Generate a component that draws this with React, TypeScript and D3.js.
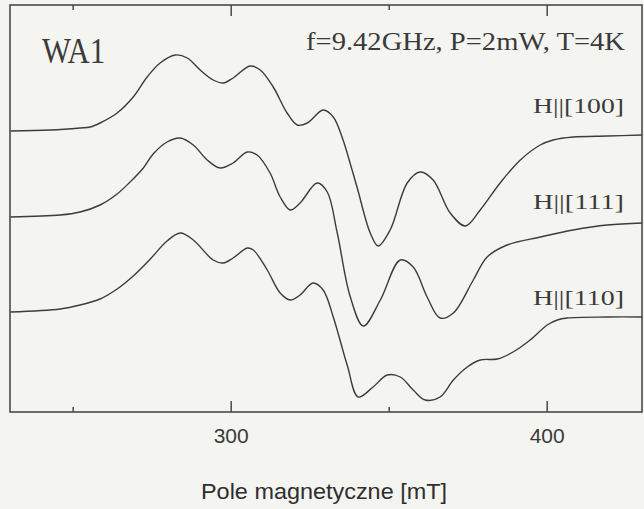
import React from "react";
import * as d3 from "d3";

// Magnetic field (mT) and EPR derivative signal (a.u.) for each orientation
const fieldH100 = [230.1, 242.7, 252.2, 255.4, 258.5, 263.9, 269.0, 273.4, 277.5, 282.3, 286.1, 290.2, 294.3, 297.5, 300.6, 306.0, 309.2, 313.3, 317.7, 320.9, 324.1, 329.1, 332.3, 335.4, 337.7, 339.9, 344.0, 346.5, 350.3, 355.7, 359.8, 363.9, 369.3, 374.1, 378.8, 385.1, 391.5, 397.8, 401.9, 408.2, 419.0, 430.1];
const signalH100 = [0, 1, 3, 4, 8, 18, 34, 54, 68, 76, 73, 61, 51, 48, 53, 65, 61, 44, 18, 6, 8, 21, 14, -9, -33, -57, -102, -115, -99, -52, -41, -49, -82, -95, -79, -52, -29, -14, -9, -6, -5, -4];

const fieldH111 = [230.1, 245.9, 252.2, 258.5, 263.9, 268.0, 272.2, 275.3, 279.7, 283.9, 288.0, 292.4, 296.5, 300.6, 305.1, 308.2, 312.3, 315.5, 318.7, 321.8, 327.2, 330.4, 333.5, 337.7, 341.8, 347.2, 353.5, 357.6, 362.0, 366.1, 370.3, 376.6, 381.0, 387.3, 397.8, 408.2, 419.0, 430.1];
const signalH111 = [0, 2, 5, 12, 23, 35, 49, 63, 75, 79, 72, 57, 49, 54, 65, 62, 44, 20, 7, 14, 34, 25, -15, -80, -109, -83, -43, -50, -80, -101, -96, -63, -40, -28, -20, -13, -8, -6];

const fieldH110 = [230.1, 245.9, 252.2, 258.5, 263.9, 269.0, 274.4, 279.7, 283.9, 288.0, 294.3, 297.5, 300.6, 305.1, 307.0, 311.4, 315.5, 318.7, 321.8, 325.9, 329.1, 332.3, 336.7, 340.2, 344.9, 349.4, 353.5, 357.6, 361.4, 366.1, 370.3, 374.7, 378.8, 384.2, 389.2, 394.6, 400.0, 403.2, 406.3, 419.0, 430.1];
const signalH110 = [0, 3, 7, 13, 23, 36, 53, 71, 79, 72, 52, 49, 54, 64, 62, 42, 19, 12, 17, 29, 22, -5, -53, -85, -75, -63, -65, -78, -88, -85, -68, -55, -48, -47, -40, -28, -13, -8, -6, -5, -5];

const seriesLabels = ["H||[100]", "H||[111]", "H||[110]"];
const seriesOffsets = [281, 195, 100];

const majorTicks = [300, 400];
const minorTicks = [250, 350];

const sampleLabel = "WA1";
const conditionsLabel = "f=9.42GHz, P=2mW, T=4K";
const xAxisTitle = "Pole magnetyczne [mT]";

export default function App() {
  const W = 644, H = 509;
  const left = 10, right = 642, top = 5, bottom = 412;
  const x = d3.scaleLinear().domain([230, 430]).range([left, right]);
  const y = d3.scaleLinear().domain([0, 407]).range([bottom, top]);

  const series = [
    { f: fieldH100, s: signalH100 },
    { f: fieldH111, s: signalH111 },
    { f: fieldH110, s: signalH110 },
  ];

  const line = d3
    .line<[number, number]>()
    .x((d) => x(d[0]))
    .y((d) => y(d[1]))
    .curve(d3.curveCatmullRom.alpha(0.5));

  const labelY = [113, 209, 305];
  const stroke = "#3c3c3c";

  return (
    <div style={{ position: "absolute", left: 0, top: 0 }}>
      <svg width={W} height={H} style={{ display: "block" }}>
        <rect x={0} y={0} width={W} height={H} fill="#f4f4f1" />
        {series.map((sr, i) => {
          const pts = sr.f.map((f, j) => [f, sr.s[j] + seriesOffsets[i]] as [number, number]);
          return (
            <path key={i} d={line(pts) || ""} fill="none" stroke={stroke} strokeWidth={1.4} strokeLinejoin="round" />
          );
        })}
        <rect x={left} y={top} width={right - left} height={bottom - top} fill="none" stroke="#4a4a4a" strokeWidth={1.6} />
        {majorTicks.map((t) => (
          <g key={"M" + t}>
            <line x1={x(t)} x2={x(t)} y1={bottom} y2={bottom - 11} stroke="#4a4a4a" strokeWidth={1.5} />
            <line x1={x(t)} x2={x(t)} y1={top} y2={top + 11} stroke="#4a4a4a" strokeWidth={1.5} />
            <text x={x(t)} y={443} textAnchor="middle" fontFamily="Liberation Sans, Arial, sans-serif" fontSize={21} fill="#3a3a3a">
              {t}
            </text>
          </g>
        ))}
        {minorTicks.map((t) => (
          <g key={"m" + t}>
            <line x1={x(t)} x2={x(t)} y1={bottom} y2={bottom - 5} stroke="#4a4a4a" strokeWidth={1.5} />
            <line x1={x(t)} x2={x(t)} y1={top} y2={top + 5} stroke="#4a4a4a" strokeWidth={1.5} />
          </g>
        ))}
        <text x={324} y={499} textAnchor="middle" fontFamily="Liberation Sans, Arial, sans-serif" fontSize={22} fill="#2e2e2e" textLength={246} lengthAdjust="spacingAndGlyphs">
          {xAxisTitle}
        </text>
        <text x={42} y={63} fontFamily="Liberation Serif, serif" fontSize={35} fill="#3a3a3a" textLength={63} lengthAdjust="spacingAndGlyphs">
          {sampleLabel}
        </text>
        <text x={306} y={50} fontFamily="Liberation Serif, serif" fontSize={25} fill="#3a3a3a" textLength={319} lengthAdjust="spacingAndGlyphs">
          {conditionsLabel}
        </text>
        {seriesLabels.map((lab, i) => (
          <text key={lab} x={624} y={labelY[i]} textAnchor="end" fontFamily="Liberation Serif, serif" fontSize={21} fill="#3a3a3a" textLength={91} lengthAdjust="spacingAndGlyphs">
            {lab}
          </text>
        ))}
      </svg>
    </div>
  );
}
